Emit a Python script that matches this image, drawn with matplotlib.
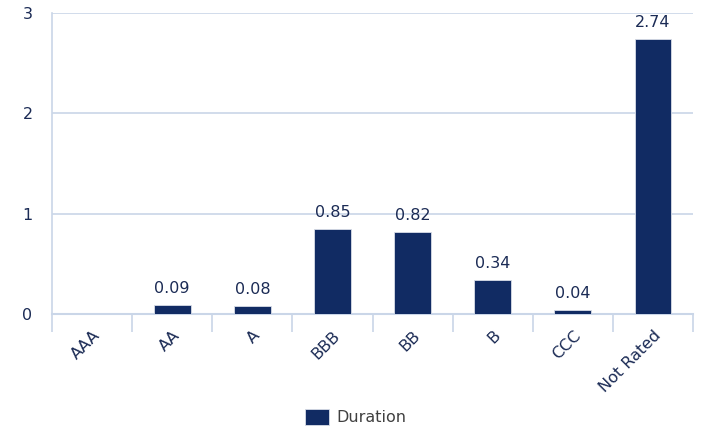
import matplotlib.pyplot as plt
import numpy as np

# ratings and duration contribution values
categories = ["AAA", "AA", "A", "BBB", "BB", "B", "CCC", "Not Rated"]
duration = [0.0, 0.09, 0.08, 0.85, 0.82, 0.34, 0.04, 2.74]
labels = ["", "0.09", "0.08", "0.85", "0.82", "0.34", "0.04", "2.74"]

navy = "#112B63"
text_col = "#1B2B55"
grid_col = "#CAD6E8"

fig = plt.figure(figsize=(7.03, 4.30), dpi=100)
ax = fig.add_axes([52 / 703, 1 - 314 / 430, 641 / 703, 301 / 430])

x = np.arange(len(categories))
bars = ax.bar(x, duration, width=0.46, color=navy, edgecolor="#D9DEE8",
              linewidth=0.6, label="Duration", zorder=3)

for xi, v, lab in zip(x, duration, labels):
    if lab:
        ax.text(xi, v + 0.09, lab, ha="center", va="bottom",
                fontsize=11.5, color=text_col)

ax.set_xlim(-0.5, len(categories) - 0.5)
ax.set_ylim(0, 3)
ax.set_yticks([0, 1, 2, 3])
ax.yaxis.grid(True, color=grid_col, linewidth=1.2, zorder=0)
ax.tick_params(axis="y", length=0, pad=14, labelsize=11.5, labelcolor=text_col)

# category separators below the axis
ax.set_xticks(x)
ax.set_xticklabels(categories, rotation=45, ha="right", va="top",
                   rotation_mode="anchor", fontsize=11.5, color=text_col)
ax.set_xticks(list(x - 0.5) + [len(categories) - 0.5], minor=True)
ax.tick_params(axis="x", which="major", length=0, pad=10)
ax.tick_params(axis="x", which="minor", length=13, width=1.2, color=grid_col)

for s in ["top", "right"]:
    ax.spines[s].set_visible(False)
ax.spines["left"].set_color(grid_col)
ax.spines["left"].set_linewidth(1.2)
ax.spines["bottom"].set_color(grid_col)
ax.spines["bottom"].set_linewidth(1.5)

leg = fig.legend(handles=[bars], labels=["Duration"], loc="center",
                 bbox_to_anchor=(356 / 703, 1 - 417 / 430), frameon=False,
                 fontsize=11.5, handlelength=1.45, handleheight=1.2,
                 handletextpad=0.5)
for t in leg.get_texts():
    t.set_color("#404040")

fig.savefig("out.png", dpi=100)
